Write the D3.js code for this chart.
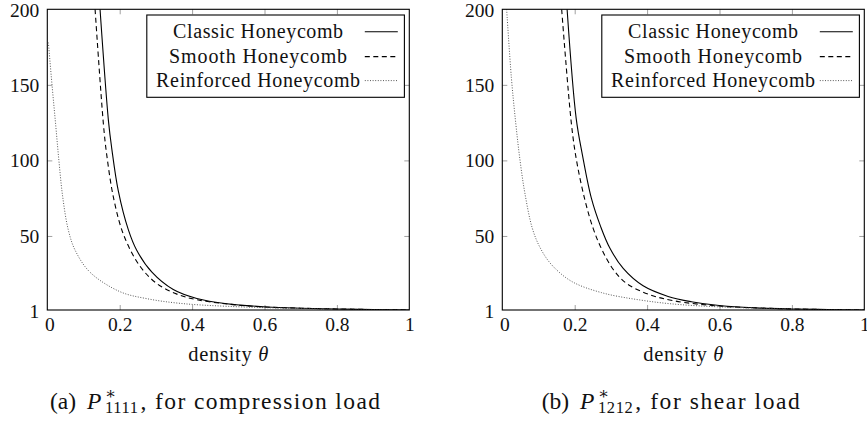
<!DOCTYPE html>
<html>
<head>
<meta charset="utf-8">
<script src="https://cdn.jsdelivr.net/npm/d3@7"></script>
<style>
  html, body { margin: 0; padding: 0; background: #fff; }
  svg { display: block; }
  svg text { font-family: "Liberation Serif", "DejaVu Serif", "Times New Roman", serif; }
</style>
</head>
<body>
<svg id="chart" width="867" height="421"></svg>
<script>
// ---------- data ----------
const seriesNames = ["Classic Honeycomb", "Smooth Honeycomb", "Reinforced Honeycomb"];
const xTicks = [0, 0.2, 0.4, 0.6, 0.8, 1];
const xTickLabels = ["0", "0.2", "0.4", "0.6", "0.8", "1"];
const yTicks = [1, 50, 100, 150, 200];
const yTickLabels = ["1", "50", "100", "150", "200"];

// (a) compression load
const compClassicTheta = [0.1457, 0.169, 0.178, 0.196, 0.224, 0.247, 0.289, 0.348, 0.413, 0.496, 0.607, 0.7, 0.8, 0.9, 1.0];
const compClassicValue = [200, 126, 108, 80, 54, 40.5, 26, 14.5, 8.6, 5.1, 3, 2.2, 1.7, 1.3, 1];
const compSmoothTheta = [0.132, 0.155, 0.164, 0.184, 0.212, 0.256, 0.302, 0.358, 0.413, 0.5, 0.6, 0.7, 0.8, 0.9, 1.0];
const compSmoothValue = [200, 124, 104, 74, 50, 30, 18.6, 11.5, 7.8, 4.9, 3, 2.2, 1.7, 1.3, 1];
const compReinfTheta = [0.003, 0.013, 0.023, 0.032, 0.0425, 0.058, 0.077, 0.118, 0.201, 0.275, 0.367, 0.5, 0.7, 0.85, 1.0];
const compReinfValue = [178, 150, 124, 100, 76, 54, 40.5, 26, 13.1, 8.5, 5.4, 3.4, 2, 1.5, 1];

// (b) shear load
const shearClassicTheta = [0.179, 0.204, 0.221, 0.246, 0.272, 0.297, 0.334, 0.389, 0.458, 0.522, 0.605, 0.7, 0.8, 0.9, 1.0];
const shearClassicValue = [200, 128, 104, 75, 56, 42, 28.5, 17, 10, 6.5, 3.8, 2.4, 1.7, 1.3, 1];
const shearSmoothTheta = [0.164, 0.191, 0.205, 0.228, 0.251, 0.274, 0.306, 0.343, 0.403, 0.476, 0.6, 0.7, 0.8, 0.9, 1.0];
const shearSmoothValue = [200, 124, 100, 74, 55, 41.5, 28, 18.6, 11.5, 7, 3.6, 2.4, 1.7, 1.3, 1];
const shearReinfTheta = [0.012, 0.025, 0.037, 0.049, 0.0626, 0.083, 0.105, 0.136, 0.191, 0.274, 0.384, 0.495, 0.7, 0.85, 1.0];
const shearReinfValue = [200, 155, 125, 100, 78, 55, 42, 31, 20, 12.5, 7.5, 4.5, 2.2, 1.5, 1];

// ---------- drawing ----------
const svg = d3.select("#chart");
const FONT = 19.5;
const FAMILY = "Liberation Serif, DejaVu Serif, serif";

const styles = [
  { stroke: "#000", width: 1.1, dash: null },
  { stroke: "#000", width: 1.1, dash: "5,3.5" },
  { stroke: "#444", width: 0.9, dash: "1,1.6" }
];

function panel(opt) {
  const x0 = opt.x0, x1 = opt.x0 + 362, yTop = 9.3, yBot = 310;
  const x = d3.scaleLinear().domain([0, 1]).range([x0, x1]);
  const y = d3.scaleLinear().domain([1, 200]).range([yBot, yTop]);
  const g = svg.append("g").attr("font-family", FAMILY);
  const clipId = "clip" + opt.key;
  svg.append("clipPath").attr("id", clipId).append("rect")
    .attr("x", x0).attr("y", yTop).attr("width", x1 - x0).attr("height", yBot - yTop);

  // axes with inward grey ticks
  const tickCol = "#a0a0a0";
  const axB = g.append("g").attr("transform", `translate(0,${yBot})`)
    .call(d3.axisBottom(x).tickValues(xTicks).tickFormat((d, i) => xTickLabels[i]).tickSizeInner(-5).tickSizeOuter(0).tickPadding(7));
  const axT = g.append("g").attr("transform", `translate(0,${yTop})`)
    .call(d3.axisTop(x).tickValues(xTicks).tickFormat("").tickSizeInner(-5).tickSizeOuter(0));
  const axL = g.append("g").attr("transform", `translate(${x0},0)`)
    .call(d3.axisLeft(y).tickValues(yTicks).tickFormat((d, i) => yTickLabels[i]).tickSizeInner(-5).tickSizeOuter(0).tickPadding(8));
  const axR = g.append("g").attr("transform", `translate(${x1},0)`)
    .call(d3.axisRight(y).tickValues(yTicks).tickFormat("").tickSizeInner(-5).tickSizeOuter(0));
  [axB, axT, axL, axR].forEach(a => {
    a.attr("font-family", FAMILY).attr("font-size", FONT);
    a.select(".domain").remove();
    a.selectAll(".tick line").attr("stroke", tickCol).attr("stroke-width", 1);
    a.selectAll("text").attr("fill", "#111");
  });
  [axB, axT].forEach(a => a.selectAll(".tick line").filter(d => d === 0 || d === 1).remove());
  [axL, axR].forEach(a => a.selectAll(".tick line").filter(d => d === 1 || d === 200).remove());
  axL.selectAll(".tick text").filter(d => d === 1).attr("dy", "0.40em");
  axL.selectAll(".tick text").filter(d => d === 200).attr("dy", "0.36em");
  axB.selectAll(".tick text").filter(d => d === 0).attr("dx", "0.1em");

  // curves
  const line = d3.line().x(d => x(d[0])).y(d => y(d[1])).curve(d3.curveCatmullRom.alpha(0.5));
  const curves = g.append("g").attr("clip-path", `url(#${clipId})`);
  opt.series.forEach((s, i) => {
    const pts = s.theta.map((t, j) => [t, s.value[j]]);
    curves.append("path").datum(pts).attr("d", line)
      .attr("fill", "none").attr("stroke", styles[i].stroke)
      .attr("stroke-width", styles[i].width)
      .attr("stroke-dasharray", styles[i].dash);
  });

  // frame
  g.append("rect").attr("x", x0).attr("y", yTop).attr("width", x1 - x0).attr("height", yBot - yTop)
    .attr("fill", "none").attr("stroke", "#000").attr("stroke-width", 1.1);

  // legend
  const lx = x0 + 99.5, ly = 15, lw = 257.6, lh = 82.3;
  const lg = g.append("g");
  lg.append("rect").attr("x", lx).attr("y", ly).attr("width", lw).attr("height", lh)
    .attr("fill", "#fff").attr("stroke", "#000").attr("stroke-width", 1.1);
  const rowC = [31.8, 56.6, 80.6];
  const widths = [170, 178, 204];
  seriesNames.forEach((name, i) => {
    lg.append("text").attr("x", lx + 111.3).attr("y", rowC[i] + 6)
      .attr("text-anchor", "middle").attr("font-size", 20).attr("fill", "#111")
      .attr("textLength", widths[i]).attr("lengthAdjust", "spacing")
      .text(name);
    lg.append("line").attr("x1", lx + 218).attr("x2", lx + 251)
      .attr("y1", rowC[i]).attr("y2", rowC[i])
      .attr("stroke", styles[i].stroke).attr("stroke-width", styles[i].width)
      .attr("stroke-dasharray", styles[i].dash);
  });

  // x label
  const xl = g.append("text").attr("x", (x0 + x1) / 2).attr("y", 360.5).attr("text-anchor", "middle")
    .attr("font-size", 20.5).attr("fill", "#111")
    .attr("textLength", 80).attr("lengthAdjust", "spacing");
  xl.append("tspan").text("density ");
  xl.append("tspan").attr("font-style", "italic").text("θ");

  // caption: pieces measured and placed left to right
  const cg = g.append("g").attr("fill", "#111");
  const base = 408.5, big = 23.5, small = 16.5;
  const A = cg.append("text").attr("y", base).attr("font-size", big).text(opt.capPrefix);
  const B = cg.append("text").attr("y", base).attr("font-size", big).attr("font-style", "italic").text("P");
  const probe = cg.append("text").attr("font-size", small).text("∗");
  const starW = probe.node().getComputedTextLength();
  probe.remove();
  const SU = cg.append("text").attr("y", base).attr("font-size", small);
  SU.append("tspan").attr("dy", -9.5).text("∗");
  SU.append("tspan").attr("dx", -starW).attr("dy", 14).attr("letter-spacing", 0.6).text(opt.sub);
  const C = cg.append("text").attr("y", base).attr("font-size", big).text(", " + opt.capSuffix);
  const wA = A.node().getComputedTextLength() + 11;
  const wB = B.node().getComputedTextLength() + 3.5;
  const wSU = SU.node().getComputedTextLength() - starW + 2;
  const wC = C.node().getComputedTextLength();
  const nChars = (opt.capSuffix.length + 1);
  const extra = opt.capW - (wA + wB + wSU + wC);
  const ls = Math.max(0, extra / nChars);
  C.attr("letter-spacing", ls.toFixed(3));
  let cx = opt.capL;
  A.attr("x", cx); cx += wA;
  B.attr("x", cx); cx += wB;
  SU.attr("x", cx); cx += wSU;
  C.attr("x", cx);
}

panel({
  key: "a", x0: 47.3, capL: 50, capW: 330, capPrefix: "(a)", sub: "1111", capSuffix: "for compression load",
  series: [
    { theta: compClassicTheta, value: compClassicValue },
    { theta: compSmoothTheta, value: compSmoothValue },
    { theta: compReinfTheta, value: compReinfValue }
  ]
});
panel({
  key: "b", x0: 502.3, capL: 541.7, capW: 258, capPrefix: "(b)", sub: "1212", capSuffix: "for shear load",
  series: [
    { theta: shearClassicTheta, value: shearClassicValue },
    { theta: shearSmoothTheta, value: shearSmoothValue },
    { theta: shearReinfTheta, value: shearReinfValue }
  ]
});
</script>
</body>
</html>
